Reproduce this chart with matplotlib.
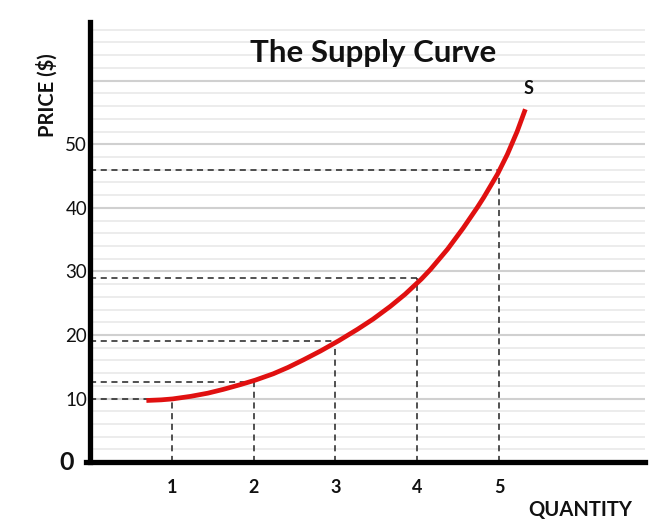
import matplotlib
matplotlib.use("Agg")
import matplotlib.pyplot as plt
import numpy as np

# ---- data ----
curve_qty = [0.69, 0.87, 1.01, 1.23, 1.44, 1.63, 1.84, 2.02, 2.24, 2.42, 2.61, 2.82,
             3.04, 3.27, 3.46, 3.67, 3.85, 4.05, 4.16, 4.37, 4.56, 4.73, 4.81, 4.98,
             5.10, 5.22, 5.32]
curve_price = [9.7, 9.8, 9.95, 10.35, 10.85, 11.45, 12.2, 12.9, 13.9, 14.9, 16.1, 17.5,
               19.1, 20.9, 22.5, 24.5, 26.4, 28.8, 30.3, 33.5, 36.8, 40.0, 41.6, 45.3,
               48.4, 52.0, 55.5]

point_qty = [1, 2, 3, 4, 5]
point_price = [10.0, 12.6, 19.0, 28.9, 45.9]

x_ticks = [1, 2, 3, 4, 5]
x_tick_labels = ["1", "2", "3", "4", "5"]
y_ticks = [10, 20, 30, 40, 50]
y_tick_labels = ["10", "20", "30", "40", "50"]

title = "The Supply Curve"
x_label = "QUANTITY"
y_label = "PRICE ($)"
curve_label = "S"

FONT = ["Lato", "DejaVu Sans"]
plt.rcParams["font.family"] = FONT

fig = plt.figure(figsize=(6.71, 5.27), dpi=100)
ax = fig.add_axes([0.134, 0.123, 0.827, 0.835])
ax.set_xlim(0, 6.78)
ax.set_ylim(0, 69.2)

# grid lines
for g in np.arange(2, 70, 2):
    major = (g % 10 == 0)
    ax.axhline(g, color="#d0d0d0" if major else "#e9e9e9",
               lw=1.5 if major else 1.2, zorder=0)

# dashed guide lines
for q, p in zip(point_qty, point_price):
    ax.plot([0, q], [p, p], ls=(0, (4, 3)), color="#222222", lw=1.1, zorder=2)
    ax.plot([q, q], [0, p], ls=(0, (4, 3)), color="#222222", lw=1.1, zorder=2)

# supply curve
ax.plot(curve_qty, curve_price, color="#e01010", lw=3.4,
        solid_capstyle="butt", solid_joinstyle="round", zorder=3)
ax.text(curve_qty[-1] + 0.04, 58.8, curve_label, ha="center",
        va="center", fontsize=13, fontweight="bold", color="#111111")

# spines
for s in ["top", "right"]:
    ax.spines[s].set_visible(False)
for s in ["left", "bottom"]:
    ax.spines[s].set_linewidth(3.8)
    ax.spines[s].set_color("black")
ax.spines["bottom"].set_bounds(-0.05, 6.78)

ax.set_xticks(x_ticks)
ax.set_xticklabels(x_tick_labels, fontsize=13, fontweight="bold", color="#111111")
ax.set_yticks(y_ticks)
ax.set_yticklabels(y_tick_labels, fontsize=13.5, color="#111111")
ax.tick_params(axis="both", length=0)
ax.tick_params(axis="x", pad=12)
ax.tick_params(axis="y", pad=2)

ax.text(-0.2, 0, "0", ha="right", va="center", fontsize=18,
        fontweight="bold", color="#111111", transform=ax.transData)

ax.text(3.46, 64.3, title, transform=ax.transData,
        ha="center", va="center", fontsize=22.5, fontweight="bold", color="#111111")

fig.text(0.07, 0.82, y_label, rotation=90, ha="center", va="center",
         fontsize=14.5, fontweight="bold", color="#111111")
fig.text(0.864, 0.032, x_label, ha="center", va="center",
         fontsize=14.5, fontweight="bold", color="#111111")

fig.savefig("out.png", dpi=100, facecolor="white")
